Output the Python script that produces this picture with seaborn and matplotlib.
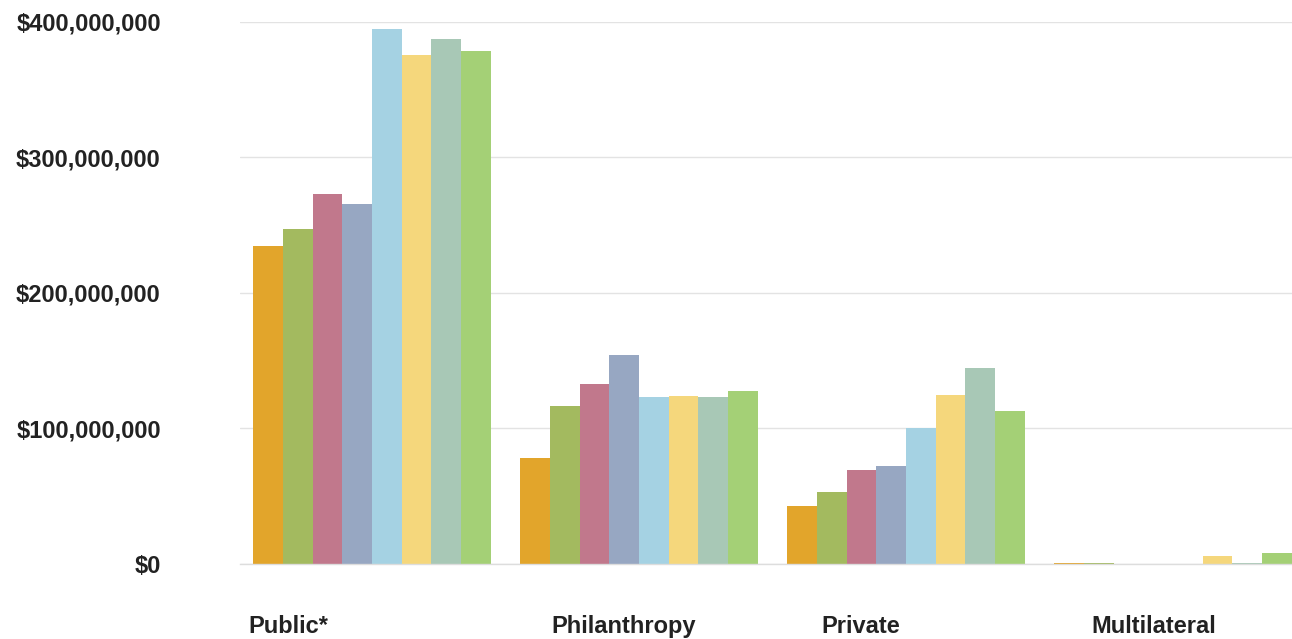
import pandas as pd
import numpy as np
import seaborn as sns
import matplotlib.pyplot as plt
from matplotlib.ticker import FuncFormatter

# Categories and the eight series (one bar per series in each group)
categories = ['Public*', 'Philanthropy', 'Private', 'Multilateral']
series = ['2009', '2010', '2011', '2012', '2013', '2014', '2015', '2016']

# values in millions of dollars
public = [235, 247, 273, 265.5, 395, 376, 387.5, 378.5]
philanthropy = [78, 116.5, 133, 154.5, 123, 124, 123.5, 128]
private = [43, 53, 69, 72, 100, 125, 145, 113]
multilateral = [1, 1, 0, 0, 0, 6, 1, 8]

colors = ['#E2A52B', '#A3BA5F', '#C1788C', '#97A7C2',
          '#A5D2E3', '#F5D77C', '#A8C8B6', '#A4D076']

# label positions are a bit left of the group centres in the original
label_offsets = [-0.315, -0.056, -0.17, -0.07]

rows = []
for cat, vals in zip(categories, [public, philanthropy, private, multilateral]):
    for s, v in zip(series, vals):
        rows.append({'category': cat, 'series': s, 'value': v * 1e6})
df = pd.DataFrame(rows)

sns.set_style('white')
plt.rcParams['font.family'] = ['Liberation Sans', 'DejaVu Sans']

fig = plt.figure(figsize=(12.92, 6.39), dpi=100)
ax = fig.add_axes([0.1858, 0.1174, 0.8142, 0.8482])

sns.barplot(data=df, x='category', y='value', hue='series', palette=colors,
            width=8 / 9, gap=0, saturation=1, legend=False, ax=ax,
            edgecolor='none')

ax.set_ylim(0, 400e6)
ax.set_xlim(-0.494, 3.446)
ax.set_yticks([0, 100e6, 200e6, 300e6, 400e6])
ax.yaxis.set_major_formatter(FuncFormatter(lambda v, p: '${:,.0f}'.format(v)))
ax.yaxis.grid(True, color='#e3e3e3', linewidth=1)
ax.set_axisbelow(True)

ax.set_xticks([i + o for i, o in enumerate(label_offsets)])
ax.set_xticklabels(categories)

for lab in ax.get_yticklabels() + ax.get_xticklabels():
    lab.set_fontweight('bold')
    lab.set_fontsize(17)
    lab.set_color('#222222')

ax.tick_params(axis='y', length=0, pad=57)
ax.tick_params(axis='x', length=0, pad=37)
ax.set_xlabel('')
ax.set_ylabel('')

for side in ['top', 'right', 'left']:
    ax.spines[side].set_visible(False)
ax.spines['bottom'].set_color('#dddddd')
ax.spines['bottom'].set_linewidth(1)

fig.savefig('out.png', dpi=100)
